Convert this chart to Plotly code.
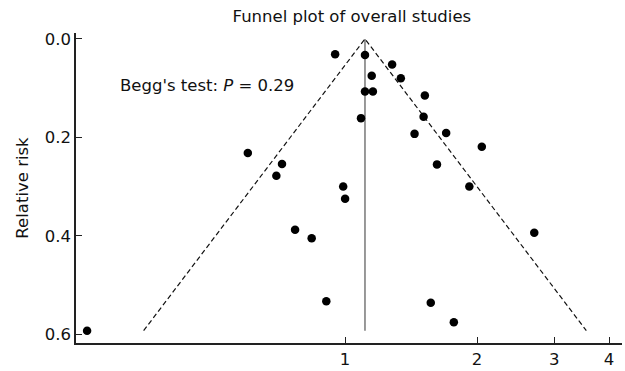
import math
import plotly.graph_objects as go

# Study estimates (relative risk) and their standard errors
rr = [0.949, 1.11, 1.28, 1.15, 1.34, 1.11, 1.157, 1.52, 1.087, 1.51,
      1.44, 1.70, 0.600, 0.718, 0.697, 2.05, 1.62, 0.99, 1.00, 1.92,
      0.769, 0.839, 2.70, 0.906, 1.568, 1.77, 0.258]
se = [0.031, 0.0325, 0.052, 0.075, 0.080, 0.107, 0.107, 0.115, 0.161, 0.158,
      0.193, 0.191, 0.232, 0.254, 0.278, 0.219, 0.255, 0.300, 0.325, 0.300,
      0.388, 0.405, 0.394, 0.533, 0.536, 0.576, 0.593]
pooled = 1.11
se_max = 0.593

x_ticks = [1, 2, 3, 4]
x_ticktext = ["1", "2", "3", "4"]
y_ticks = [0.0, 0.2, 0.4, 0.6]
y_ticktext = ["0.0", "0.2", "0.4", "0.6"]

FONT = "DejaVu Sans"
FS = 16.5

lo = math.exp(math.log(pooled) - 1.96 * se_max)
hi = math.exp(math.log(pooled) + 1.96 * se_max)

fig = go.Figure()
# pooled estimate line
fig.add_trace(go.Scatter(x=[pooled, pooled], y=[0, se_max], mode="lines",
                         line=dict(color="#777777", width=1.5), hoverinfo="skip"))
# pseudo 95% limits
fig.add_trace(go.Scatter(x=[lo, pooled, hi], y=[se_max, 0, se_max], mode="lines",
                         line=dict(color="#111111", width=1.2, dash="5px,3px"), hoverinfo="skip"))
# studies
fig.add_trace(go.Scatter(x=rr, y=se, mode="markers",
                         marker=dict(color="black", size=8.5)))

fig.update_layout(
    width=625, height=371,
    margin=dict(l=76, r=3, t=33, b=28),
    paper_bgcolor="white", plot_bgcolor="white",
    showlegend=False,
    font=dict(family=FONT, size=FS, color="#111111"),
    title=dict(text="Funnel plot of overall studies", x=0.563, xref="container", xanchor="center",
               y=1 - 16 / 371, yref="container", yanchor="middle",
               font=dict(family=FONT, size=FS, color="#111111")),
    xaxis=dict(type="log", range=[math.log10(0.2434), math.log10(4.28)],
               tickvals=x_ticks, ticktext=x_ticktext,
               ticks="inside", ticklen=6, tickwidth=1.2, tickcolor="#222222",
               showline=True, linecolor="#222222", linewidth=1.5,
               showgrid=False, zeroline=False, tickfont=dict(size=FS)),
    yaxis=dict(range=[0.618, -0.012], tickvals=y_ticks, ticktext=y_ticktext,
               ticks="inside", ticklen=6, tickwidth=1.2, tickcolor="#222222",
               showline=True, linecolor="#222222", linewidth=1.5,
               showgrid=False, zeroline=False, tickfont=dict(size=FS),
               title=dict(text="Relative risk", font=dict(size=FS), standoff=12)),
    annotations=[dict(text="Begg's test: <i>P</i> = 0.29", xref="paper", yref="paper",
                      x=(118 - 76) / 546, y=(343 - 85) / 310, xanchor="left", yanchor="middle",
                      showarrow=False, font=dict(family=FONT, size=FS, color="#111111"))],
)

fig.write_html("out.html", config={"displayModeBar": False},
               post_script="document.body.style.margin='0px';document.body.style.padding='0px';")
